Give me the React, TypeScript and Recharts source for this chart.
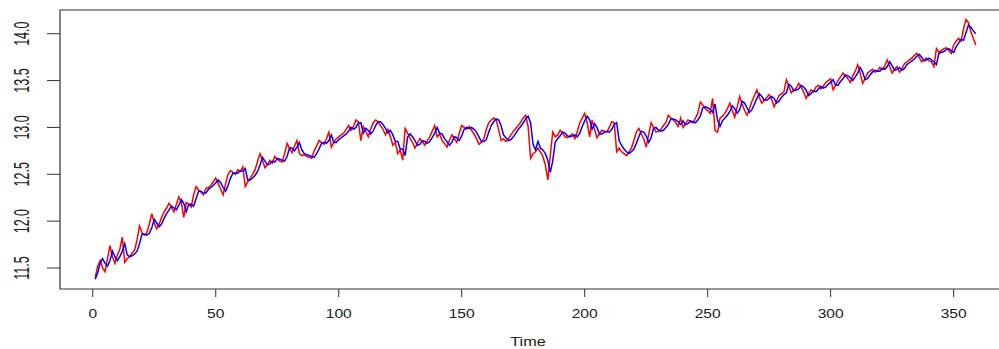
import React from "react";
import { LineChart, Line, XAxis, YAxis, ReferenceArea, Label } from "recharts";

const actual = [
  11.40, 11.52, 11.58, 11.50, 11.46, 11.60, 11.74, 11.62, 11.55, 11.64,
  11.70, 11.83, 11.56, 11.60, 11.62, 11.66, 11.69, 11.80, 11.95, 11.88,
  11.85, 11.88, 11.97, 12.08, 11.98, 11.92, 11.97, 12.04, 12.10, 12.14,
  12.19, 12.15, 12.10, 12.18, 12.26, 12.20, 12.04, 12.20, 12.18, 12.15,
  12.28, 12.37, 12.33, 12.31, 12.28, 12.35, 12.36, 12.38, 12.42, 12.46,
  12.40, 12.34, 12.28, 12.40, 12.50, 12.54, 12.52, 12.50, 12.55, 12.53,
  12.58, 12.37, 12.42, 12.46, 12.50, 12.55, 12.64, 12.72, 12.65, 12.57,
  12.60, 12.65, 12.62, 12.69, 12.66, 12.64, 12.63, 12.72, 12.83, 12.78,
  12.73, 12.80, 12.86, 12.72, 12.70, 12.71, 12.69, 12.68, 12.67, 12.75,
  12.80, 12.86, 12.84, 12.82, 12.88, 12.95, 12.79, 12.84, 12.88, 12.90,
  12.92, 12.94, 12.98, 13.02, 12.97, 13.01, 13.08, 13.06, 12.86, 13.01,
  12.96, 12.90, 12.98, 13.05, 13.08, 13.06, 13.02, 12.98, 12.92, 12.98,
  12.90, 12.81, 12.84, 12.72, 12.76, 12.65, 12.99, 12.94, 12.88, 12.84,
  12.78, 12.83, 12.88, 12.85, 12.81, 12.86, 12.90, 12.96, 13.02, 12.90,
  12.93, 12.86, 12.83, 12.79, 12.86, 12.92, 12.88, 12.84, 12.94, 13.02,
  13.00, 12.98, 13.01, 12.97, 12.93, 12.88, 12.82, 12.84, 12.88, 12.98,
  13.05, 13.08, 13.10, 13.08, 12.98, 12.86, 12.88, 12.85, 12.88, 12.92,
  12.96, 12.99, 13.02, 13.06, 13.10, 13.13, 13.01, 12.67, 12.72, 12.74,
  12.78, 12.74, 12.69, 12.60, 12.44, 12.70, 12.95, 12.90, 12.92, 12.97,
  12.94, 12.90, 12.89, 12.91, 12.93, 12.88, 12.96, 13.05, 13.10, 13.15,
  13.05, 12.90, 13.08, 12.98, 12.89, 12.93, 12.97, 12.96, 12.95, 13.00,
  13.06, 13.05, 12.74, 12.78, 12.74, 12.72, 12.70, 12.74, 12.78, 12.86,
  12.95, 12.99, 12.93, 12.88, 12.79, 12.92, 13.05, 13.00, 12.95, 12.96,
  12.98, 13.02, 13.05, 13.13, 13.10, 13.08, 13.05, 13.01, 13.10, 13.00,
  13.04, 13.08, 13.06, 13.05, 13.10, 13.15, 13.27, 13.24, 13.20, 13.18,
  13.15, 13.31, 12.97, 12.95, 13.10, 13.12, 13.15, 13.20, 13.26, 13.18,
  13.11, 13.22, 13.33, 13.25, 13.18, 13.13, 13.20, 13.28, 13.34, 13.40,
  13.32, 13.26, 13.29, 13.32, 13.35, 13.30, 13.22, 13.28, 13.34, 13.36,
  13.38, 13.51, 13.44, 13.37, 13.40, 13.42, 13.47, 13.43, 13.38, 13.31,
  13.36, 13.40, 13.38, 13.43, 13.45, 13.41, 13.44, 13.48, 13.50, 13.52,
  13.40, 13.45, 13.50, 13.54, 13.58, 13.55, 13.52, 13.48, 13.55, 13.60,
  13.67, 13.58, 13.47, 13.52, 13.58, 13.60, 13.62, 13.59, 13.60, 13.64,
  13.62, 13.66, 13.72, 13.65, 13.58, 13.62, 13.65, 13.59, 13.63, 13.68,
  13.70, 13.72, 13.74, 13.77, 13.79, 13.75, 13.70, 13.72, 13.74, 13.71,
  13.70, 13.65, 13.84, 13.80, 13.82, 13.84, 13.85, 13.82, 13.79, 13.88,
  13.92, 13.95, 13.92, 14.05, 14.15, 14.12, 14.02, 13.95, 13.88,
];

const fitted = [
  11.38, 11.45, 11.55, 11.60, 11.55, 11.52, 11.58, 11.68, 11.62, 11.58,
  11.62, 11.68, 11.76, 11.64, 11.62, 11.63, 11.65, 11.68, 11.76, 11.86,
  11.86, 11.85, 11.87, 11.93, 12.02, 11.98, 11.94, 11.97, 12.03, 12.08,
  12.12, 12.16, 12.14, 12.12, 12.17, 12.23, 12.19, 12.10, 12.18, 12.18,
  12.16, 12.24, 12.32, 12.32, 12.30, 12.30, 12.34, 12.36, 12.38, 12.41,
  12.44, 12.41, 12.36, 12.32, 12.38, 12.46, 12.51, 12.51, 12.51, 12.54,
  12.53, 12.56, 12.44, 12.44, 12.46, 12.49, 12.53, 12.60, 12.68, 12.64,
  12.60, 12.61, 12.64, 12.63, 12.67, 12.66, 12.65, 12.64, 12.69, 12.78,
  12.78, 12.75, 12.79, 12.84, 12.76, 12.72, 12.71, 12.70, 12.69, 12.68,
  12.72, 12.77, 12.83, 12.84, 12.83, 12.86, 12.92, 12.84, 12.84, 12.87,
  12.89, 12.91, 12.93, 12.96, 13.00, 12.98, 13.00, 13.05, 13.05, 12.94,
  12.99, 12.97, 12.93, 12.96, 13.02, 13.06, 13.06, 13.03, 12.99, 12.94,
  12.97, 12.92, 12.85, 12.85, 12.77, 12.77, 12.70, 12.90, 12.93, 12.90,
  12.86, 12.81, 12.82, 12.86, 12.85, 12.83, 12.85, 12.89, 12.94, 13.00,
  12.94, 12.93, 12.88, 12.85, 12.81, 12.84, 12.90, 12.89, 12.86, 12.91,
  12.98, 13.00, 12.99, 13.00, 12.98, 12.95, 12.90, 12.85, 12.85, 12.87,
  12.95, 13.02, 13.06, 13.09, 13.08, 13.02, 12.92, 12.89, 12.86, 12.87,
  12.90, 12.94, 12.98, 13.01, 13.05, 13.09, 13.12, 13.05, 12.82, 12.76,
  12.85, 12.78, 12.76, 12.72, 12.65, 12.52, 12.64, 12.84, 12.88, 12.91,
  12.95, 12.94, 12.91, 12.90, 12.91, 12.92, 12.90, 12.94, 13.01, 13.07,
  13.12, 13.08, 12.98, 13.04, 13.00, 12.93, 12.93, 12.95, 12.96, 12.95,
  12.98, 13.03, 13.05, 12.86, 12.81, 12.77, 12.74, 12.72, 12.74, 12.77,
  12.83, 12.90, 12.96, 12.95, 12.91, 12.84, 12.89, 12.99, 13.00, 12.97,
  12.96, 12.97, 13.00, 13.03, 13.09, 13.09, 13.08, 13.06, 13.03, 13.07,
  13.03, 13.04, 13.07, 13.06, 13.05, 13.08, 13.12, 13.21, 13.22, 13.21,
  13.19, 13.16, 13.25, 13.08, 13.01, 13.07, 13.10, 13.13, 13.17, 13.23,
  13.20, 13.15, 13.19, 13.28, 13.26, 13.21, 13.16, 13.19, 13.25, 13.31,
  13.36, 13.33, 13.29, 13.29, 13.31, 13.33, 13.31, 13.26, 13.28, 13.32,
  13.35, 13.37, 13.46, 13.44, 13.39, 13.40, 13.41, 13.45, 13.43, 13.40,
  13.34, 13.36, 13.39, 13.38, 13.41, 13.44, 13.42, 13.43, 13.46, 13.48,
  13.51, 13.45, 13.45, 13.49, 13.52, 13.56, 13.55, 13.53, 13.50, 13.54,
  13.58, 13.64, 13.59, 13.51, 13.52, 13.56, 13.59, 13.61, 13.60, 13.60,
  13.63, 13.62, 13.65, 13.70, 13.66, 13.61, 13.62, 13.64, 13.61, 13.63,
  13.67, 13.69, 13.71, 13.73, 13.76, 13.78, 13.75, 13.71, 13.72, 13.74,
  13.72, 13.70, 13.67, 13.79, 13.80, 13.81, 13.83, 13.84, 13.82, 13.80,
  13.86, 13.90, 13.94, 13.93, 14.01, 14.09, 14.07, 14.03, 14.00,
];

const xTicks = [0, 50, 100, 150, 200, 250, 300, 350];
const yTicks = [11.5, 12.0, 12.5, 13.0, 13.5, 14.0];
const xDomain = [-13.32, 373.32];
const yDomain = [11.276, 14.253];

const data = actual.map((v, i) => ({ t: i + 1, actual: v, fitted: fitted[i] }));

const FONT = "'Liberation Sans', Arial, sans-serif";

const XTick = (props: any) => {
  const { x, payload } = props;
  return (
    <g transform={`translate(${x},318) scale(1.2,1)`}>
      <text textAnchor="middle" fontFamily={FONT} fontSize={13} fill="#222">
        {payload.value}
      </text>
    </g>
  );
};

const YTick = (props: any) => {
  const { y, payload } = props;
  return (
    <g transform={`translate(21,${y}) scale(1.7,1) rotate(-90)`}>
      <text textAnchor="middle" dy="0.36em" fontFamily={FONT} fontSize={12.5} fill="#222">
        {Number(payload.value).toFixed(1)}
      </text>
    </g>
  );
};

export default function App() {
  return (
    <div style={{ position: "absolute", left: 0, top: 0, width: 999, height: 349, overflow: "hidden", background: "#fff" }}>
      <LineChart width={1012} height={349} data={data} margin={{ top: 10, right: 1, bottom: 0, left: 0 }}>
        <XAxis
          dataKey="t"
          type="number"
          domain={xDomain}
          ticks={xTicks}
          allowDataOverflow
          axisLine={false}
          tickLine={{ stroke: "#333" }}
          tickSize={8}
          height={60}
          tick={<XTick />}
          interval={0}
        >
          <Label
            content={() => (
              <g transform="translate(528,346) scale(1.2,1)">
                <text textAnchor="middle" fontFamily={FONT} fontSize={13.5} fill="#222">Time</text>
              </g>
            )}
          />
        </XAxis>
        <YAxis
          type="number"
          domain={yDomain}
          ticks={yTicks}
          allowDataOverflow
          axisLine={false}
          tickLine={{ stroke: "#333" }}
          tickSize={13}
          width={60}
          tick={<YTick />}
          interval={0}
        />
        <ReferenceArea
          x1={xDomain[0]}
          x2={xDomain[1]}
          y1={yDomain[0]}
          y2={yDomain[1]}
          fill="none"
          fillOpacity={0}
          stroke="#333"
          strokeWidth={1.2}
          ifOverflow="visible"
        />
        <Line type="linear" dataKey="actual" stroke="#ff0000" strokeWidth={1.5} dot={false} isAnimationActive={false} />
        <Line type="linear" dataKey="fitted" stroke="#0000ff" strokeWidth={1.5} dot={false} isAnimationActive={false} />
      </LineChart>
    </div>
  );
}
